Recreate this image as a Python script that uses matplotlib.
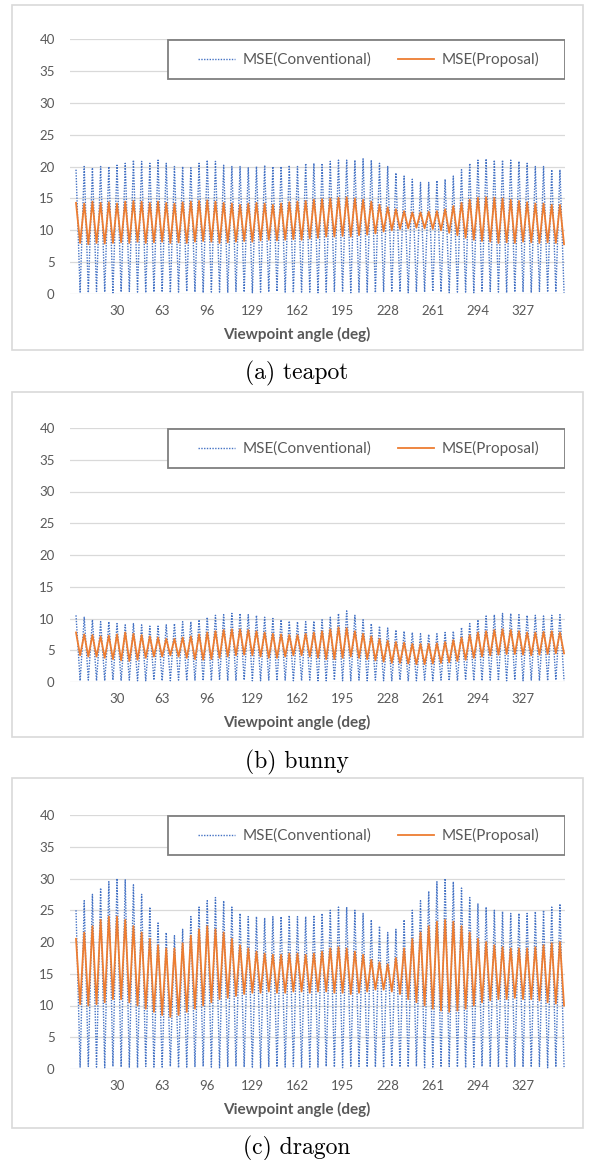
import numpy as np
import matplotlib
matplotlib.use("Agg")
import matplotlib.pyplot as plt
from matplotlib.patches import Rectangle

# ==========================================================
# DATA (one peak + one trough per 6 deg)
# ==========================================================
angles = list(range(0, 360, 3))          # viewpoint angle samples
tick_angles = [30, 63, 96, 129, 162, 195, 228, 261, 294, 327]
y_ticks = [0, 5, 10, 15, 20, 25, 30, 35, 40]
captions = ["(a) teapot", "(b) bunny", "(c) dragon"]
legend_labels = ["MSE(Conventional)", "MSE(Proposal)"]

# teapot
teapot_conv_hi = [19.5, 20, 19.8, 20, 20, 20.2, 20.5, 21, 20.8, 20.5,
                  21, 20.5, 20, 20, 19.8, 20.5, 21, 20.8, 20.2, 20,
                  20, 19.8, 20, 20.2, 20, 20, 20.2, 20, 20.5, 20.5,
                  20.5, 20.8, 21, 21, 21, 21.2, 21, 20.5, 20, 19,
                  18.5, 18, 17.5, 17.5, 17.8, 18, 18.5, 19.5, 20.5, 21,
                  21.2, 21, 21, 21, 20.8, 20.5, 20, 20, 19.5, 19.5]
teapot_conv_lo = [0.3, 0.2, 0.4, 0.3, 0.2, 0.3, 0.4, 0.3, 0.2, 0.3,
                  0.3, 0.2, 0.3, 0.4, 0.3, 0.2, 0.3, 0.3, 0.2, 0.4,
                  0.3, 0.2, 0.3, 0.3, 0.4, 0.3, 0.2, 0.3, 0.3, 0.2,
                  0.3, 0.4, 0.3, 0.2, 0.3, 0.3, 0.2, 0.4, 0.3, 0.3,
                  0.2, 0.3, 0.3, 0.4, 0.3, 0.2, 0.3, 0.3, 0.2, 0.3,
                  0.4, 0.3, 0.2, 0.3, 0.3, 0.2, 0.4, 0.3, 0.3, 0.2]
teapot_prop_hi = [14.3, 14.2, 14.5, 14.3, 14.4, 14.2, 14.5, 14.6, 14.5, 14.3,
                  14.5, 14.3, 14.2, 14.4, 14.5, 14.6, 14.7, 14.5, 14.3, 14.2,
                  14.0, 14.2, 14.3, 14.2, 14.0, 14.2, 14.4, 14.5, 14.6, 14.8,
                  14.9, 15.0, 15.1, 15.2, 15.0, 14.8, 14.5, 14.0, 13.6, 13.3,
                  13.0, 12.8, 12.8, 12.9, 13.0, 13.3, 13.8, 14.3, 14.8, 15.1,
                  15.2, 15.1, 15.0, 14.8, 14.6, 14.4, 14.2, 14.2, 14.0, 14.0]
teapot_prop_lo = [8.0, 7.8, 8.0, 7.9, 8.0, 8.1, 8.0, 8.2, 8.0, 8.1,
                  8.2, 8.0, 8.1, 8.0, 8.2, 8.3, 8.2, 8.0, 8.1, 8.2,
                  8.3, 8.2, 8.4, 8.5, 8.4, 8.5, 8.6, 8.5, 8.7, 8.8,
                  9.0, 9.0, 9.1, 9.0, 9.2, 9.3, 9.5, 9.8, 10.0, 10.2,
                  10.3, 10.4, 10.3, 10.2, 10.0, 9.6, 9.2, 8.8, 8.5, 8.3,
                  8.2, 8.0, 8.1, 8.0, 8.2, 8.1, 8.0, 8.1, 8.0, 7.8]

# bunny
bunny_conv_hi = [10.5, 10.2, 9.8, 9.5, 9.5, 9.2, 9.0, 9.2, 9.0, 8.8,
                 8.8, 9.0, 9.2, 9.5, 9.5, 9.8, 10.2, 10.5, 10.6, 10.8,
                 10.8, 10.6, 10.5, 10.2, 10.0, 9.8, 9.6, 9.5, 9.5, 9.6,
                 9.8, 10.2, 10.8, 11.2, 10.5, 9.8, 9.2, 8.8, 8.5, 8.2,
                 8.0, 7.8, 7.6, 7.5, 7.6, 7.8, 8.0, 8.6, 9.2, 9.8,
                 10.4, 10.6, 10.8, 10.8, 10.6, 10.5, 10.5, 10.4, 10.5, 10.6]
bunny_conv_lo = [0.2, 0.3, 0.2, 0.2, 0.3, 0.2, 0.3, 0.2, 0.2, 0.3,
                 0.2, 0.2, 0.3, 0.2, 0.3, 0.2, 0.2, 0.3, 0.2, 0.2,
                 0.3, 0.2, 0.2, 0.3, 0.2, 0.3, 0.2, 0.2, 0.3, 0.2,
                 0.2, 0.3, 0.2, 0.2, 0.3, 0.2, 0.3, 0.2, 0.2, 0.3,
                 0.2, 0.2, 0.3, 0.2, 0.3, 0.2, 0.2, 0.3, 0.2, 0.2,
                 0.3, 0.2, 0.2, 0.3, 0.2, 0.3, 0.2, 0.2, 0.3, 0.2]
bunny_prop_hi = [7.8, 7.5, 7.4, 7.2, 7.3, 7.5, 7.8, 7.6, 7.4, 7.2,
                 7.0, 6.8, 6.8, 7.0, 7.2, 7.5, 7.8, 8.0, 8.2, 8.3,
                 8.3, 8.2, 8.0, 7.8, 7.6, 7.5, 7.4, 7.4, 7.6, 7.8,
                 8.0, 8.3, 8.6, 8.5, 8.0, 7.6, 7.2, 6.8, 6.5, 6.3,
                 6.2, 6.0, 6.0, 6.0, 6.1, 6.3, 6.6, 7.0, 7.4, 7.8,
                 8.0, 8.2, 8.3, 8.2, 8.0, 7.8, 7.8, 7.9, 8.0, 7.8]
bunny_prop_lo = [4.2, 4.0, 4.0, 3.8, 3.6, 3.4, 3.3, 3.5, 3.8, 4.0,
                 4.0, 4.2, 4.0, 3.8, 3.6, 3.5, 3.6, 3.8, 4.0, 4.2,
                 4.3, 4.2, 4.0, 3.8, 3.8, 4.0, 4.2, 4.2, 4.0, 3.8,
                 3.6, 3.6, 3.8, 4.0, 3.8, 3.6, 3.4, 3.2, 3.0, 3.0,
                 2.9, 2.8, 2.8, 2.9, 3.0, 3.1, 3.3, 3.5, 3.8, 4.0,
                 4.2, 4.3, 4.4, 4.4, 4.3, 4.2, 4.3, 4.4, 4.5, 4.5]

# dragon
dragon_conv_hi = [25, 26.5, 27.5, 28.5, 29.5, 30, 29.8, 29, 27.5, 25.5,
                  23, 21.5, 21, 22, 24, 25.5, 26.5, 27, 26.5, 25.5,
                  24.5, 24, 24, 23.8, 24, 24, 24.2, 24, 24, 24.2,
                  24.5, 25, 25.5, 25.5, 25, 24.5, 23.5, 22.5, 21.5, 22,
                  23.5, 25, 26.5, 28, 29.5, 30, 29.5, 28.5, 27, 26,
                  25.5, 25, 24.8, 24.5, 24.5, 24.5, 24.8, 25, 25.5, 26]
dragon_conv_lo = [0.3, 0.4, 0.3, 0.2, 0.4, 0.3, 0.3, 0.2, 0.4, 0.3,
                  0.3, 0.4, 0.2, 0.3, 0.3, 0.4, 0.3, 0.2, 0.3, 0.4,
                  0.3, 0.3, 0.2, 0.4, 0.3, 0.3, 0.4, 0.2, 0.3, 0.3,
                  0.4, 0.3, 0.2, 0.3, 0.4, 0.3, 0.3, 0.2, 0.4, 0.3,
                  0.3, 0.4, 0.2, 0.3, 0.3, 0.4, 0.3, 0.2, 0.3, 0.4,
                  0.3, 0.3, 0.2, 0.4, 0.3, 0.3, 0.4, 0.2, 0.3, 0.3]
dragon_prop_hi = [20.5, 21.5, 22.5, 23.5, 24, 24, 23.5, 22.5, 21.5, 20.5,
                  19.5, 19, 19, 19.8, 21, 22, 22.5, 22, 21.5, 20.5,
                  19.5, 19, 18.5, 18.2, 18, 18, 18.2, 18.2, 18, 18.2,
                  18.5, 19, 19.2, 19, 18.5, 18, 17.2, 16.8, 16.5, 17.5,
                  19, 20.5, 21.5, 22.5, 23.2, 23.5, 23.2, 22.5, 21.5, 20.5,
                  20, 19.5, 19.2, 19, 19, 19, 19.2, 19.5, 19.8, 20]
dragon_prop_lo = [10.2, 10, 10.2, 10.5, 11, 11, 10.5, 10, 9.5, 9,
                  8.5, 8.2, 8.5, 9, 9.5, 10, 10.5, 11, 11.2, 11.5,
                  11.8, 12, 12, 12.2, 12, 12, 12.2, 12.2, 12, 12.2,
                  12.2, 12, 12, 11.8, 12, 12.2, 12.5, 12.5, 12.2, 11.8,
                  11, 10.5, 10, 9.5, 9.2, 9, 9.2, 9.5, 10, 10.5,
                  10.8, 11, 11, 11.2, 11, 11, 10.8, 10.5, 10.3, 10]


def interleave(hi, lo):
    out = []
    for h, l in zip(hi, lo):
        out += [h, l]
    return out


panels = [
    (interleave(teapot_conv_hi, teapot_conv_lo), interleave(teapot_prop_hi, teapot_prop_lo)),
    (interleave(bunny_conv_hi, bunny_conv_lo), interleave(bunny_prop_hi, bunny_prop_lo)),
    (interleave(dragon_conv_hi, dragon_conv_lo), interleave(dragon_prop_hi, dragon_prop_lo)),
]

# ==========================================================
# LAYOUT (pixel positions on a 592x1160 canvas)
# ==========================================================
W, H = 592, 1160
blue = "#4472C4"
orange = "#ED7D31"
grid_col = "#D9D9D9"
text_col = "#595959"

plt.rcParams["font.family"] = ["Lato", "DejaVu Sans"]

fig = plt.figure(figsize=(W / 100, H / 100), dpi=100)

plot_left, plot_right = 70, 565
zero_rows = [294, 682, 1069]     # pixel row of y=0
top_rows = [39, 428, 815]        # pixel row of y=40
box_rows = [(5, 350), (392, 737), (778, 1128)]
caption_rows = [373, 762, 1148]

for i, (conv, prop) in enumerate(panels):
    # outer chart frame
    b0, b1 = box_rows[i]
    fig.add_artist(Rectangle((12 / W, 1 - b1 / H), (583 - 12) / W, (b1 - b0) / H,
                             transform=fig.transFigure, fill=False,
                             edgecolor=grid_col, linewidth=1.2))

    ax_h = zero_rows[i] - top_rows[i]
    ax = fig.add_axes([plot_left / W, 1 - zero_rows[i] / H,
                       (plot_right - plot_left) / W, ax_h / H])
    ax.plot(angles, conv, color=blue, linewidth=1.0, linestyle=(0, (1, 1)),
            label=legend_labels[0], zorder=2)
    ax.plot(angles, prop, color=orange, linewidth=1.3,
            label=legend_labels[1], zorder=3)

    ax.set_xlim(-4.4, 357.7)
    ax.set_ylim(0, 40)
    ax.set_yticks(y_ticks)
    ax.set_xticks(tick_angles)
    ax.tick_params(length=0, labelsize=9.5, labelcolor=text_col)
    ax.tick_params(axis="y", pad=11)
    ax.tick_params(axis="x", pad=8)
    for s in ax.spines.values():
        s.set_visible(False)
    ax.yaxis.grid(True, color=grid_col, linewidth=0.9)
    ax.set_axisbelow(True)
    ax.set_xlabel("Viewpoint angle (deg)", fontsize=11, fontweight="bold",
                  color=text_col)
    # axis title is centred on the chart frame, not on the plot area
    ax.xaxis.set_label_coords((297 - plot_left) / (plot_right - plot_left),
                              -40 / ax_h)
    ax.xaxis.label.set_va("center")

    # legend frame drawn separately so the entries sit centred inside it
    fx0 = (168 - plot_left) / (plot_right - plot_left)
    fy1 = 1 - 1 / ax_h
    fy0 = 1 - 40 / ax_h
    ax.add_patch(Rectangle((fx0, fy0), 1 - fx0, fy1 - fy0, transform=ax.transAxes,
                           facecolor="white", edgecolor="#7F7F7F",
                           linewidth=1.3, zorder=4))
    ax.legend(loc="center", bbox_to_anchor=((fx0 + 1) / 2 + 0.005, (fy0 + fy1) / 2),
              ncol=2, fontsize=11, frameon=False, borderpad=0,
              handlelength=2.4, handletextpad=0.5, columnspacing=1.7,
              labelcolor=text_col).set_zorder(5)

    fig.text(297 / W, 1 - caption_rows[i] / H, captions[i], ha="center",
             va="center", fontsize=17, family="cmr10")

fig.savefig("out.png", dpi=100)
